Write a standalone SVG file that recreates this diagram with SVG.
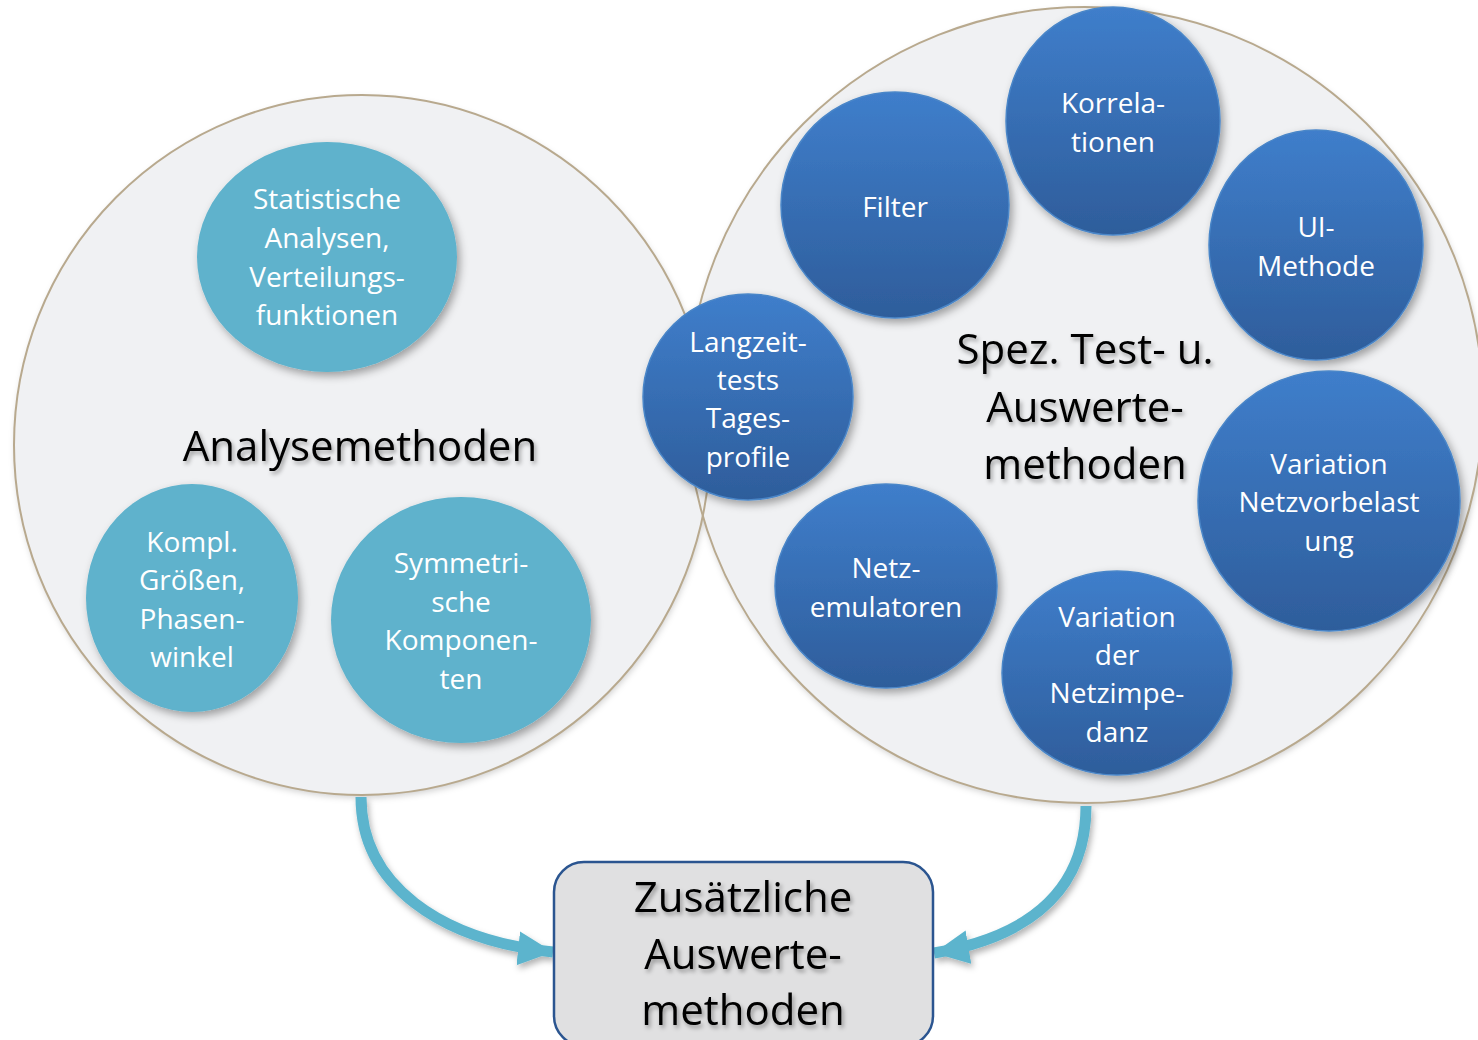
<svg xmlns="http://www.w3.org/2000/svg" width="1478" height="1040" viewBox="0 0 1478 1040">
  <defs>
    <linearGradient id="blueGrad" x1="0" y1="0" x2="0" y2="1">
      <stop offset="0" stop-color="#3f7ecb"/>
      <stop offset="1" stop-color="#2e5d9b"/>
    </linearGradient>
    <filter id="shadow" x="-20%" y="-20%" width="140%" height="140%">
      <feDropShadow dx="3" dy="4" stdDeviation="4" flood-color="#000" flood-opacity="0.35"/>
    </filter>
    <filter id="bigShadow" x="-10%" y="-10%" width="120%" height="120%">
      <feDropShadow dx="1" dy="3" stdDeviation="3" flood-color="#000" flood-opacity="0.18"/>
    </filter>
    <filter id="textShadow" x="-10%" y="-20%" width="120%" height="150%">
      <feDropShadow dx="2" dy="3" stdDeviation="2" flood-color="#000" flood-opacity="0.35"/>
    </filter>
    <filter id="arrowShadow" x="-20%" y="-20%" width="140%" height="140%">
      <feDropShadow dx="2" dy="4" stdDeviation="3" flood-color="#000" flood-opacity="0.3"/>
    </filter>
    <marker id="arrowHead" markerUnits="userSpaceOnUse" markerWidth="36" markerHeight="36" viewBox="0 0 34 34" refX="33" refY="17" orient="auto">
      <path d="M0,1 L33,17 L0,33 Z" fill="#5cb4cd"/>
    </marker>
  </defs>
  <style>
    .big { fill: #f0f1f3; }
    .bigEdge { fill: none; stroke: #b8a98e; stroke-width: 2; }
    .teal { fill: #5eb2cc; filter: url(#shadow); }
    .blue { fill: url(#blueGrad); stroke: #4a86c8; stroke-width: 1.5; filter: url(#shadow); }
    .lbl { font-family: "Open Sans", "Liberation Sans", sans-serif; font-size: 28px; fill: #ffffff; text-anchor: middle; }
    .title { font-family: "Open Sans", "Liberation Sans", sans-serif; font-size: 42px; fill: #000000; text-anchor: middle; filter: url(#textShadow); }
    .conn { fill: none; stroke: #5cb4cd; stroke-width: 11; marker-end: url(#arrowHead); }
    .box { fill: #e0e0e1; stroke: #2b5590; stroke-width: 2.5; }
  </style>

  <g id="groups">
    <g id="analysemethoden-bg" filter="url(#bigShadow)">
      <ellipse class="big" cx="362" cy="445" rx="348" ry="350"/>
      <ellipse class="big" cx="1085" cy="405" rx="398" ry="398"/>
    </g>
    <ellipse class="bigEdge" cx="362" cy="445" rx="348" ry="350"/>
    <ellipse class="bigEdge" cx="1085" cy="405" rx="398" ry="398"/>
  </g>

  <g id="connectors" filter="url(#arrowShadow)">
    <path class="conn" d="M361,797 C361,885 440,940 553,952"/>
    <path class="conn" d="M1086,806 C1086,882 1040,935 934,953"/>
  </g>

  <g id="node-analysemethoden">
    <text class="title" x="360" y="461">Analysemethoden</text>
  </g>

  <g id="node-spez">
    <text class="title" x="1085" y="364">Spez. Test- u.</text>
    <text class="title" x="1085" y="422">Auswerte-</text>
    <text class="title" x="1085" y="479">methoden</text>
  </g>

  <g id="node-statistische">
    <ellipse class="teal" cx="327" cy="257" rx="130" ry="115"/>
    <text class="lbl" x="327" y="209">Statistische</text>
    <text class="lbl" x="327" y="248">Analysen,</text>
    <text class="lbl" x="327" y="287">Verteilungs-</text>
    <text class="lbl" x="327" y="325">funktionen</text>
  </g>

  <g id="node-kompl">
    <ellipse class="teal" cx="192" cy="598" rx="106" ry="114"/>
    <text class="lbl" x="192" y="552">Kompl.</text>
    <text class="lbl" x="192" y="590">Größen,</text>
    <text class="lbl" x="192" y="629">Phasen-</text>
    <text class="lbl" x="192" y="667">winkel</text>
  </g>

  <g id="node-symmetrische">
    <ellipse class="teal" cx="461" cy="620" rx="130" ry="123"/>
    <text class="lbl" x="461" y="573">Symmetri-</text>
    <text class="lbl" x="461" y="612">sche</text>
    <text class="lbl" x="461" y="650">Komponen-</text>
    <text class="lbl" x="461" y="689">ten</text>
  </g>

  <g id="node-langzeit">
    <ellipse class="blue" cx="748" cy="397" rx="105" ry="103"/>
    <text class="lbl" x="748" y="352">Langzeit-</text>
    <text class="lbl" x="748" y="390">tests</text>
    <text class="lbl" x="748" y="428">Tages-</text>
    <text class="lbl" x="748" y="467">profile</text>
  </g>

  <g id="node-filter">
    <ellipse class="blue" cx="895" cy="205" rx="114" ry="113"/>
    <text class="lbl" x="895" y="217">Filter</text>
  </g>

  <g id="node-korrelationen">
    <ellipse class="blue" cx="1113" cy="121" rx="107" ry="114"/>
    <text class="lbl" x="1113" y="113">Korrela-</text>
    <text class="lbl" x="1113" y="152">tionen</text>
  </g>

  <g id="node-ui">
    <ellipse class="blue" cx="1316" cy="245" rx="107" ry="115"/>
    <text class="lbl" x="1316" y="237">UI-</text>
    <text class="lbl" x="1316" y="276">Methode</text>
  </g>

  <g id="node-netzvorbelastung">
    <ellipse class="blue" cx="1329" cy="501" rx="131" ry="130"/>
    <text class="lbl" x="1329" y="474">Variation</text>
    <text class="lbl" x="1329" y="512">Netzvorbelast</text>
    <text class="lbl" x="1329" y="551">ung</text>
  </g>

  <g id="node-netzemulatoren">
    <ellipse class="blue" cx="886" cy="586" rx="111" ry="102"/>
    <text class="lbl" x="886" y="578">Netz-</text>
    <text class="lbl" x="886" y="617">emulatoren</text>
  </g>

  <g id="node-netzimpedanz">
    <ellipse class="blue" cx="1117" cy="673" rx="115" ry="102"/>
    <text class="lbl" x="1117" y="627">Variation</text>
    <text class="lbl" x="1117" y="665">der</text>
    <text class="lbl" x="1117" y="703">Netzimpe-</text>
    <text class="lbl" x="1117" y="742">danz</text>
  </g>

  <g id="node-zusaetzliche">
    <rect class="box" x="554" y="862" width="379" height="184" rx="30" ry="30"/>
    <text class="title" x="743" y="912">Zusätzliche</text>
    <text class="title" x="743" y="969">Auswerte-</text>
    <text class="title" x="743" y="1025">methoden</text>
  </g>
</svg>
